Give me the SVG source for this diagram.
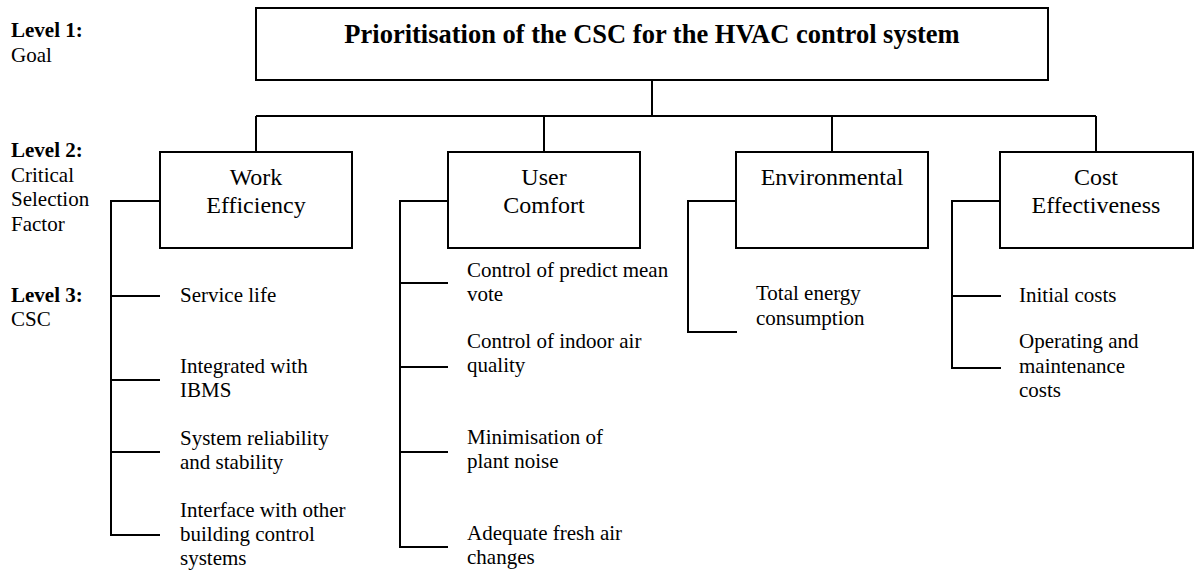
<svg xmlns="http://www.w3.org/2000/svg" width="1201" height="575" viewBox="0 0 1201 575">
  <style>
    text { font-family: "Liberation Serif", "Times New Roman", serif; fill: #000; }
    .lvl { font-size: 21px; }
    .lvlb { font-size: 21px; font-weight: bold; }
    .title { font-size: 26.5px; font-weight: bold; text-anchor: middle; }
    .box { fill: #fff; stroke: #000; stroke-width: 2; }
    .boxtxt { font-size: 24px; text-anchor: middle; }
    .leaf { font-size: 21px; }
    .conn { fill: none; stroke: #000; stroke-width: 2; }
  </style>

  <rect width="1201" height="575" fill="#fff"/>

  <!-- level captions -->
  <g id="levels">
    <text class="lvlb" x="11" y="37">Level 1:</text>
    <text class="lvl" x="11" y="62">Goal</text>
    <text class="lvlb" x="11" y="157">Level 2:</text>
    <text class="lvl" x="11" y="182">Critical</text>
    <text class="lvl" x="11" y="206">Selection</text>
    <text class="lvl" x="11" y="231">Factor</text>
    <text class="lvlb" x="11" y="302">Level 3:</text>
    <text class="lvl" x="11" y="326">CSC</text>
  </g>

  <!-- connectors -->
  <g id="connectors" class="conn">
    <path d="M652 80 V116 M256 116 H1096 M256 116 V152 M544 116 V152 M832 116 V152 M1096 116 V152"/>
    <!-- work efficiency bracket -->
    <path d="M160 201 H111 V535 H160 M111 296 H160 M111 380 H160 M111 452 H160"/>
    <!-- user comfort bracket -->
    <path d="M448 201 H400 V547 H448 M400 283 H448 M400 367 H448 M400 452 H448"/>
    <!-- environmental bracket -->
    <path d="M736 201 H688 V332 H737"/>
    <!-- cost effectiveness bracket -->
    <path d="M1000 201 H952 V368 H1001 M952 296 H1001"/>
  </g>

  <g id="goal">
    <rect class="box" x="256" y="8" width="792" height="72"/>
    <text class="title" x="652" y="43">Prioritisation of the CSC for the HVAC control system</text>
  </g>

  <g id="work-efficiency">
    <rect class="box" x="160" y="152" width="192" height="96"/>
    <text class="boxtxt" x="256" y="185">Work</text>
    <text class="boxtxt" x="256" y="213">Efficiency</text>
  </g>

  <g id="user-comfort">
    <rect class="box" x="448" y="152" width="192" height="96"/>
    <text class="boxtxt" x="544" y="185">User</text>
    <text class="boxtxt" x="544" y="213">Comfort</text>
  </g>

  <g id="environmental">
    <rect class="box" x="736" y="152" width="192" height="96"/>
    <text class="boxtxt" x="832" y="185">Environmental</text>
  </g>

  <g id="cost-effectiveness">
    <rect class="box" x="1000" y="152" width="193" height="96"/>
    <text class="boxtxt" x="1096" y="185">Cost</text>
    <text class="boxtxt" x="1096" y="213">Effectiveness</text>
  </g>

  <!-- work efficiency criteria -->
  <g id="service-life"><text class="leaf" x="180" y="302">Service life</text></g>
  <g id="integrated-ibms">
    <text class="leaf" x="180" y="373">Integrated with</text>
    <text class="leaf" x="180" y="397">IBMS</text>
  </g>
  <g id="reliability">
    <text class="leaf" x="180" y="445">System reliability</text>
    <text class="leaf" x="180" y="469">and stability</text>
  </g>
  <g id="interface">
    <text class="leaf" x="180" y="517">Interface with other</text>
    <text class="leaf" x="180" y="541">building control</text>
    <text class="leaf" x="180" y="565">systems</text>
  </g>

  <!-- user comfort criteria -->
  <g id="pmv">
    <text class="leaf" x="467" y="277">Control of predict mean</text>
    <text class="leaf" x="467" y="301">vote</text>
  </g>
  <g id="iaq">
    <text class="leaf" x="467" y="348">Control of indoor air</text>
    <text class="leaf" x="467" y="372">quality</text>
  </g>
  <g id="plant-noise">
    <text class="leaf" x="467" y="444">Minimisation of</text>
    <text class="leaf" x="467" y="468">plant noise</text>
  </g>
  <g id="fresh-air">
    <text class="leaf" x="467" y="540">Adequate fresh air</text>
    <text class="leaf" x="467" y="564">changes</text>
  </g>

  <!-- environmental criteria -->
  <g id="energy">
    <text class="leaf" x="756" y="300">Total energy</text>
    <text class="leaf" x="756" y="325">consumption</text>
  </g>

  <!-- cost criteria -->
  <g id="initial-costs"><text class="leaf" x="1019" y="302">Initial costs</text></g>
  <g id="om-costs">
    <text class="leaf" x="1019" y="348">Operating and</text>
    <text class="leaf" x="1019" y="373">maintenance</text>
    <text class="leaf" x="1019" y="397">costs</text>
  </g>
</svg>
